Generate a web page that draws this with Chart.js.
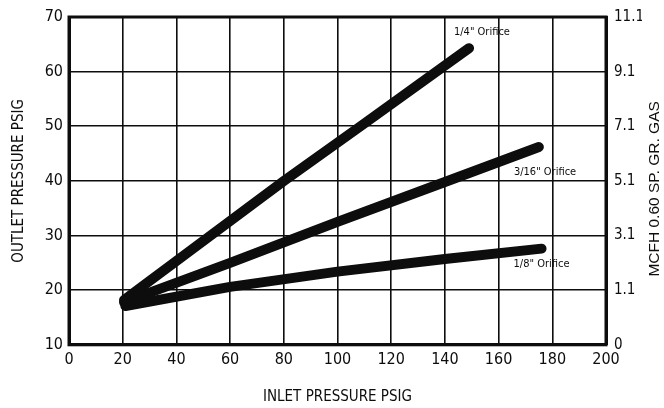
<!DOCTYPE html>
<html>
<head>
<meta charset="utf-8">
<script src="https://cdn.jsdelivr.net/npm/chart.js@4.4.1/dist/chart.umd.min.js"></script>
<style>
  body { margin: 0; background: #fff; }
  #wrap { width: 664px; height: 408px; }
</style>
</head>
<body>
<div id="wrap"><canvas id="myChart"></canvas></div>
<script>
// Data Block
const xTicks = [0, 20, 40, 60, 80, 100, 120, 140, 160, 180, 200];
const yTicks = [10, 20, 30, 40, 50, 60, 70];
const rightTickLabels = ["0", "1.1", "3.1", "5.1", "7.1", "9.1", "11.1"];

const quarterInlet = [20.5, 80, 110, 149];
const quarterOutlet = [18.2, 40, 50.5, 64.3];

const threeSixteenthInlet = [20.5, 60, 100, 140, 175];
const threeSixteenthOutlet = [17.8, 25, 32.5, 39.8, 46.2];

const eighthInlet = [21, 60, 100, 140, 176];
const eighthOutlet = [17.1, 20.6, 23.4, 25.7, 27.6];

const seriesNames = ['1/4" Orifice', '3/16" Orifice', '1/8" Orifice'];
// label anchor (data coords) for each curve
const labelX = [153.8, 177.3, 176];
const labelY = [67.2, 41.6, 24.8];

const pts = (xs, ys) => xs.map((x, i) => ({ x: x, y: ys[i] }));

const narrow = "'Liberation Sans Narrow', 'DejaVu Sans Condensed', sans-serif";
const ink = "#0d0d0d";

const lineStyle = {
  borderColor: ink,
  borderWidth: 10,
  borderCapStyle: "round",
  borderJoinStyle: "round",
  pointRadius: 0,
  tension: 0,
  fill: false,
};

const data = {
  datasets: [
    { label: seriesNames[0], data: pts(quarterInlet, quarterOutlet), ...lineStyle },
    { label: seriesNames[1], data: pts(threeSixteenthInlet, threeSixteenthOutlet), ...lineStyle },
    { label: seriesNames[2], data: pts(eighthInlet, eighthOutlet), ...lineStyle },
  ],
};

// Plugins: frame, curve labels, right axis title
const extras = {
  id: "extras",
  afterDatasetsDraw(chart) {
    const { ctx, chartArea: a, scales } = chart;
    ctx.save();
    ctx.strokeStyle = ink;
    ctx.lineWidth = 3;
    ctx.strokeRect(a.left, a.top, a.right - a.left, a.bottom - a.top);

    ctx.fillStyle = ink;
    ctx.font = "11px " + narrow;
    ctx.textAlign = "center";
    ctx.textBaseline = "middle";
    seriesNames.forEach((n, i) => {
      ctx.fillText(n, scales.x.getPixelForValue(labelX[i]), scales.y.getPixelForValue(labelY[i]));
    });

    ctx.font = "15.5px 'Liberation Sans', Arial, sans-serif";
    ctx.translate(chart.width - 9, (a.top + a.bottom) / 2 + 8);
    ctx.rotate(-Math.PI / 2);
    ctx.fillText("MCFH 0.60 SP. GR. GAS", 0, 0);
    ctx.restore();
  },
};

const options = {
  responsive: true,
  maintainAspectRatio: false,
  animation: false,
  layout: { padding: { top: 5, right: 22, left: 10, bottom: 2 } },
  plugins: { legend: { display: false }, tooltip: { enabled: false } },
  scales: {
    x: {
      type: "linear",
      min: 0,
      max: 200,
      afterBuildTicks: (s) => { s.ticks = xTicks.map((v) => ({ value: v })); },
      grid: { color: ink, lineWidth: 1.6, drawTicks: false },
      border: { color: ink, width: 3 },
      ticks: { color: ink, font: { family: narrow, size: 16 }, padding: 5, maxRotation: 0 },
      title: {
        display: true,
        text: "INLET PRESSURE PSIG",
        color: ink,
        font: { family: narrow, size: 15 },
        padding: { top: 14, bottom: 0 },
      },
    },
    y: {
      type: "linear",
      position: "left",
      min: 10,
      max: 70,
      afterBuildTicks: (s) => { s.ticks = yTicks.map((v) => ({ value: v })); },
      afterFit: (s) => { s.width = 59; },
      grid: { color: ink, lineWidth: 1.6, drawTicks: false },
      border: { color: ink, width: 3 },
      ticks: { color: ink, font: { family: narrow, size: 16 }, padding: 6 },
      title: {
        display: true,
        text: "OUTLET PRESSURE PSIG",
        color: ink,
        font: { family: narrow, size: 15 },
        padding: { top: 0, bottom: 8 },
      },
    },
    y2: {
      type: "linear",
      position: "right",
      min: 10,
      max: 70,
      afterBuildTicks: (s) => { s.ticks = yTicks.map((v) => ({ value: v })); },
      afterFit: (s) => { s.width = 36; },
      grid: { display: false, drawTicks: false },
      border: { color: ink, width: 3 },
      ticks: {
        color: ink,
        font: { family: narrow, size: 15 },
        padding: 8,
        callback: (v) => rightTickLabels[yTicks.indexOf(v)],
      },
    },
  },
};

const config = { type: "line", data, options, plugins: [extras] };

const myChart = new Chart(document.getElementById("myChart"), config);
</script>
</body>
</html>
